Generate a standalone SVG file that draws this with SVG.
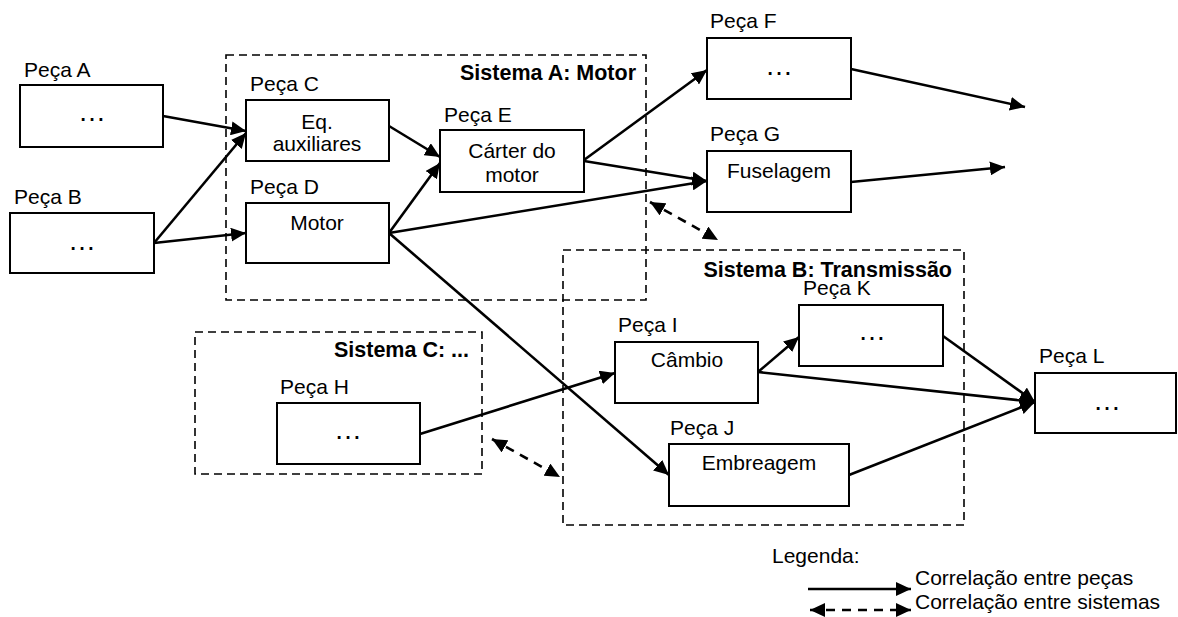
<svg xmlns="http://www.w3.org/2000/svg" width="1178" height="617" viewBox="0 0 1178 617">
  <style>
    text { font-family: "Liberation Sans", Arial, sans-serif; font-size: 21px; fill: #000; }
    .title { font-weight: bold; font-size: 21.5px; text-anchor: end; }
    .mid { text-anchor: middle; }
    .dots { text-anchor: middle; font-size: 28px; }
    .box { fill: #fff; stroke: #000; stroke-width: 2; }
    .sys { fill: none; stroke: #000; stroke-width: 1.6; stroke-dasharray: 8 5; }
    .link { fill: none; stroke: #000; stroke-width: 2.6; marker-end: url(#head); }
    .syslink { fill: none; stroke: #000; stroke-width: 2.6; stroke-dasharray: 9 7; marker-start: url(#head2); marker-end: url(#head2); }
  </style>
  <defs>
    <marker id="head" markerUnits="userSpaceOnUse" markerWidth="16" markerHeight="14" refX="15" refY="7" orient="auto">
      <path d="M0,0 L15,7 L0,14 z" fill="#000"/>
    </marker>
    <marker id="head2" markerUnits="userSpaceOnUse" markerWidth="16" markerHeight="14" refX="15" refY="7" orient="auto-start-reverse">
      <path d="M0,0 L15,7 L0,14 z" fill="#000"/>
    </marker>
  </defs>
  <rect width="1178" height="617" fill="#fff"/>

  <!-- system boundaries -->
  <g id="sistema-a">
    <rect class="sys" x="226" y="55" width="420" height="245"/>
    <text class="title" x="636" y="80">Sistema A: Motor</text>
  </g>
  <g id="sistema-b">
    <rect class="sys" x="563" y="250" width="401" height="275"/>
    <text class="title" x="952" y="277">Sistema B: Transmissão</text>
  </g>
  <g id="sistema-c">
    <rect class="sys" x="195" y="332" width="287" height="142"/>
    <text class="title" x="469" y="357">Sistema C: ...</text>
  </g>

  <!-- parts -->
  <g id="peca-a">
    <text x="24" y="77">Peça A</text>
    <rect class="box" x="20" y="85" width="143" height="62"/>
    <text class="dots" x="92" y="121">…</text>
  </g>
  <g id="peca-b">
    <text x="14" y="204">Peça B</text>
    <rect class="box" x="10" y="213" width="144" height="60"/>
    <text class="dots" x="82" y="250">…</text>
  </g>
  <g id="peca-c">
    <text x="250" y="91">Peça C</text>
    <rect class="box" x="246" y="100" width="143" height="61"/>
    <text class="mid" x="317" y="129">Eq.</text>
    <text class="mid" x="317" y="151">auxiliares</text>
  </g>
  <g id="peca-d">
    <text x="250" y="194">Peça D</text>
    <rect class="box" x="246" y="203" width="143" height="60"/>
    <text class="mid" x="317" y="230">Motor</text>
  </g>
  <g id="peca-e">
    <text x="444" y="122">Peça E</text>
    <rect class="box" x="440" y="130" width="144" height="62"/>
    <text class="mid" x="512" y="158">Cárter do</text>
    <text class="mid" x="512" y="182">motor</text>
  </g>
  <g id="peca-f">
    <text x="710" y="28">Peça F</text>
    <rect class="box" x="707" y="38" width="144" height="61"/>
    <text class="dots" x="779" y="75">…</text>
  </g>
  <g id="peca-g">
    <text x="710" y="141">Peça G</text>
    <rect class="box" x="707" y="151" width="144" height="61"/>
    <text class="mid" x="779" y="178">Fuselagem</text>
  </g>
  <g id="peca-h">
    <text x="280" y="394">Peça H</text>
    <rect class="box" x="277" y="403" width="143" height="61"/>
    <text class="dots" x="348" y="439">…</text>
  </g>
  <g id="peca-i">
    <text x="618" y="332">Peça I</text>
    <rect class="box" x="615" y="342" width="143" height="61"/>
    <text class="mid" x="687" y="367">Câmbio</text>
  </g>
  <g id="peca-j">
    <text x="670" y="435">Peça J</text>
    <rect class="box" x="669" y="444" width="180" height="62"/>
    <text class="mid" x="759" y="470">Embreagem</text>
  </g>
  <g id="peca-k">
    <text x="803" y="295">Peça K</text>
    <rect class="box" x="799" y="305" width="144" height="61"/>
    <text class="dots" x="872" y="340">…</text>
  </g>
  <g id="peca-l">
    <text x="1039" y="363">Peça L</text>
    <rect class="box" x="1035" y="373" width="141" height="60"/>
    <text class="dots" x="1107" y="410">…</text>
  </g>

  <!-- connectors -->
  <g id="connectors">
    <line class="link" x1="163" y1="116" x2="246" y2="131"/>
    <line class="link" x1="154" y1="243" x2="246" y2="133"/>
    <line class="link" x1="154" y1="243" x2="246" y2="233"/>
    <line class="link" x1="389" y1="126" x2="440" y2="157"/>
    <line class="link" x1="389" y1="233" x2="440" y2="163"/>
    <line class="link" x1="584" y1="160" x2="707" y2="70"/>
    <line class="link" x1="584" y1="161" x2="707" y2="181"/>
    <line class="link" x1="389" y1="233" x2="707" y2="181"/>
    <line class="link" x1="389" y1="233" x2="669" y2="475"/>
    <line class="link" x1="851" y1="69" x2="1025" y2="107"/>
    <line class="link" x1="851" y1="182" x2="1005" y2="167"/>
    <line class="link" x1="420" y1="434" x2="615" y2="373"/>
    <line class="link" x1="758" y1="372" x2="799" y2="337"/>
    <line class="link" x1="758" y1="372" x2="1035" y2="402"/>
    <line class="link" x1="943" y1="336" x2="1035" y2="402"/>
    <line class="link" x1="849" y1="475" x2="1035" y2="402"/>
    <line class="syslink" x1="650" y1="202" x2="718" y2="240"/>
    <line class="syslink" x1="492" y1="439" x2="560" y2="477"/>
  </g>

  <!-- legend -->
  <g id="legend">
    <text x="772" y="563">Legenda:</text>
    <line class="link" x1="808" y1="589" x2="911" y2="589"/>
    <text x="915" y="585">Correlação entre peças</text>
    <line class="syslink" x1="810" y1="610" x2="911" y2="610"/>
    <text x="915" y="609">Correlação entre sistemas</text>
  </g>
</svg>
